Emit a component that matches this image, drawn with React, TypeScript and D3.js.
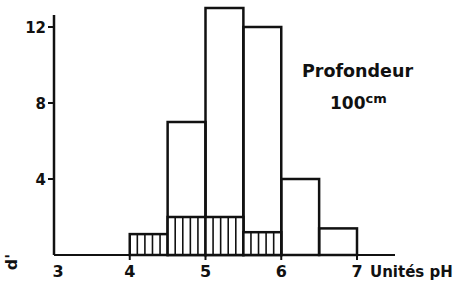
import React from 'react'
import * as d3 from 'd3'

// pH classes (lower bound of each half-unit bin)
const binStarts = [4, 4.5, 5, 5.5, 6, 6.5]
// total counts (open bars)
const totalCounts = [1.1, 7, 13, 12, 4, 1.4]
// hatched part of each bar
const hatchedCounts = [1.1, 2, 2, 1.2, 0, 0]
const xTicks = [3, 4, 5, 6, 7]
const yTicks = [4, 8, 12]

const W = 466
const H = 289
const font = 'DejaVu Sans, sans-serif'

const App = () => {
    const x = d3.scaleLinear().domain([3, 7]).range([54, 357])
    const y = d3.scaleLinear().domain([0, 12]).range([255, 27])
    const binW = 0.5

    const hatchLines = (x0: number, v: number) => {
        const lines = []
        const n = 5
        for (let k = 1; k < n; k++) {
            const xx = x(x0) + (k * (x(x0 + binW) - x(x0))) / n
            lines.push(<line key={k} x1={xx} x2={xx} y1={y(v)} y2={y(0)} stroke="#111" strokeWidth={1.6} />)
        }
        return lines
    }

    return (
        <svg width={W} height={H} style={{ position: 'absolute', left: 0, top: 0, background: '#fff' }}>
            {/* axes */}
            <line x1={x(3)} x2={x(3)} y1={15} y2={y(0)} stroke="#111" strokeWidth={2.5} />
            <line x1={x(3)} x2={395} y1={y(0)} y2={y(0)} stroke="#111" strokeWidth={2} />
            {yTicks.map(t => (
                <g key={t}>
                    <line x1={x(3) - 6} x2={x(3)} y1={y(t)} y2={y(t)} stroke="#111" strokeWidth={2} />
                    <text x={x(3) - 8} y={y(t) + 6} textAnchor="end" fontFamily={font} fontWeight="bold" fontSize={15} fill="#111">{t}</text>
                </g>
            ))}
            {xTicks.map(t => (
                <g key={t}>
                    {t > 3 && <line x1={x(t)} x2={x(t)} y1={y(0)} y2={y(0) + 5} stroke="#111" strokeWidth={2} />}
                    <text x={x(t) + (t === 3 ? 4 : 0)} y={277} textAnchor="middle" fontFamily={font} fontWeight="bold" fontSize={16} fill="#111">{t}</text>
                </g>
            ))}
            <text x={370} y={277} fontFamily={font} fontWeight="bold" fontSize={15} fill="#111">Unités pH</text>
            <text transform={`translate(17,262) rotate(-90)`} textAnchor="middle" fontFamily={font} fontWeight="bold" fontSize={16} fill="#111">d'</text>

            {/* open bars */}
            {binStarts.map((b, i) => totalCounts[i] > hatchedCounts[i] && (
                <rect key={'t' + i} x={x(b)} y={y(totalCounts[i])} width={x(b + binW) - x(b)} height={y(0) - y(totalCounts[i])}
                    fill="none" stroke="#111" strokeWidth={2.5} />
            ))}
            {/* hatched bars */}
            {binStarts.map((b, i) => hatchedCounts[i] > 0 && (
                <g key={'h' + i}>
                    <rect x={x(b)} y={y(hatchedCounts[i])} width={x(b + binW) - x(b)} height={y(0) - y(hatchedCounts[i])}
                        fill="#fff" stroke="#111" strokeWidth={2.5} />
                    {hatchLines(b, hatchedCounts[i])}
                </g>
            ))}

            <text x={302} y={77} fontFamily={font} fontWeight="bold" fontSize={17.5} fill="#111">Profondeur</text>
            <text x={330} y={109} fontFamily={font} fontWeight="bold" fontSize={17} fill="#111">100<tspan dy={-6} fontSize={13}>cm</tspan></text>
        </svg>
    )
}

export default App
